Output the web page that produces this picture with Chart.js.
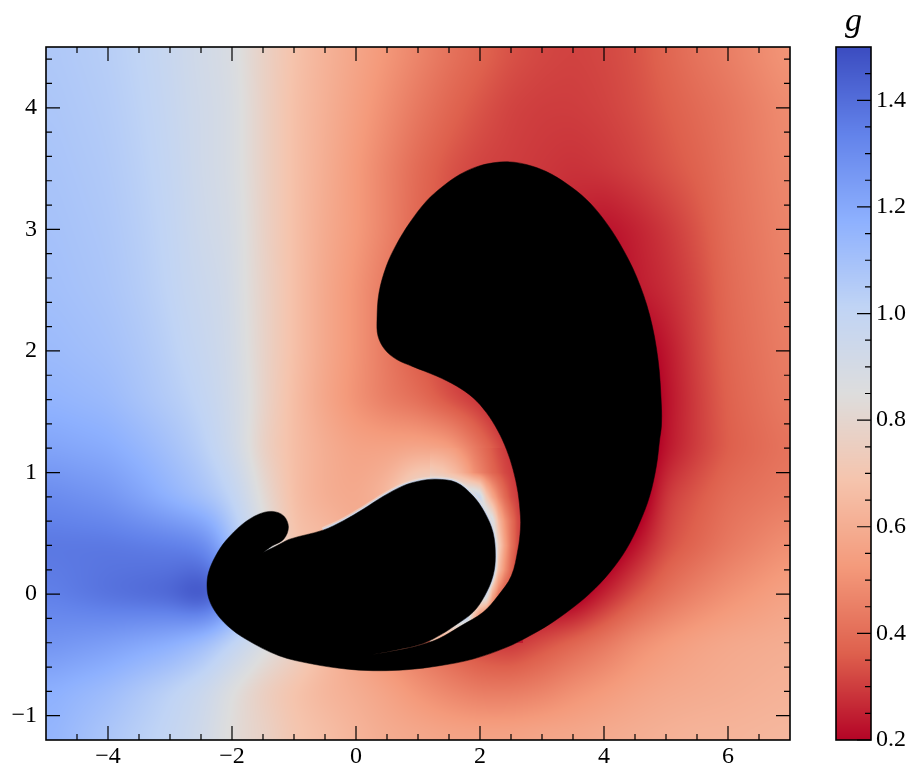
<!DOCTYPE html>
<html>
<head>
<meta charset="utf-8">
<title>g</title>
<script src="https://cdn.jsdelivr.net/npm/chart.js@4"></script>
<style>
    html, body { margin: 0; padding: 0; background: #fff; }
    canvas { position: absolute; top: 0; display: block; }
    #main { left: 0; }
    #cbar { left: 815px; }
</style>
</head>
<body>
<canvas id="main" width="815" height="777"></canvas>
<canvas id="cbar" width="100" height="777"></canvas>
<script>
const xMajor = [-4, -2, 0, 2, 4, 6];
const xMinor = [-4.5, -3.5, -3, -2.5, -1.5, -1, -0.5, 0.5, 1, 1.5, 2.5, 3, 3.5, 4.5, 5, 5.5, 6.5];
const yMajor = [-1, 0, 1, 2, 3, 4];
const yMinor = [-0.8, -0.6, -0.4, -0.2, 0.2, 0.4, 0.6, 0.8, 1.2, 1.4, 1.6, 1.8, 2.2, 2.4, 2.6, 2.8, 3.2, 3.4, 3.6, 3.8, 4.2, 4.4];
const cbarMajor = [0.2, 0.4, 0.6, 0.8, 1.0, 1.2, 1.4];
const cbarMinor = [0.25, 0.3, 0.35, 0.45, 0.5, 0.55, 0.65, 0.7, 0.75, 0.85, 0.9, 0.95, 1.05, 1.1, 1.15, 1.25, 1.3, 1.35, 1.45];

// coolwarm, reversed: first stop is g = 1.5, last is g = 0.2
const colorStops = [[59, 76, 192], [98, 130, 234], [141, 176, 254], [192, 212, 245], [221, 221, 221], [245, 196, 173], [244, 154, 123], [222, 96, 77], [180, 4, 38]];

// g
const gridX = [-5, -4, -3.5, -3, -2.75, -2.5, -2.25, -2, -1.75, -1.5, -1, -0.5, 0, 0.5, 1, 1.5, 2, 2.5, 3, 3.5, 4, 4.5, 5, 5.5, 6, 7];
const gridY = [-1.2, -0.8, -0.4, 0, 0.4, 0.8, 1.2, 1.6, 2, 2.5, 3, 3.5, 4, 4.5];
const gridValues = [
    [1.16, 1.07, 1.03, .99, .96, .93, .88, .83, .8, .78, .7, .67, .63, .6, .59, .58, .58, .58, .59, .59, .6, .61, .62, .63, .63, .64],
    [1.18, 1.12, 1.07, 1.02, .99, .96, .91, .85, .8, .75, .68, .63, .6, .56, .51, .47, .44, .44, .46, .5, .53, .56, .58, .59, .6, .62],
    [1.28, 1.24, 1.21, 1.18, 1.15, 1.12, 1.07, 1.01, .95, .88, .78, .66, .56, .48, .42, .36, .3, .28, .33, .38, .43, .49, .53, .56, .58, .6],
    [1.34, 1.39, 1.41, 1.43, 1.47, 1.5, 1.45, 1.3, 1.2, 1.1, .9, .7, .6, .5, .4, .3, .2, .2, .15, .15, .25, .34, .41, .46, .5, .56],
    [1.37, 1.37, 1.36, 1.35, 1.34, 1.32, 1.25, 1.1, 1.0, .9, .68, .66, .6, .5, .4, .3, .2, .15, .12, .12, .12, .22, .33, .38, .43, .5],
    [1.31, 1.27, 1.22, 1.16, 1.13, 1.1, 1.06, 1.01, .93, .82, .66, .6, .58, .64, .85, .85, .6, .3, .12, .1, .1, .11, .3, .35, .4, .44],
    [1.22, 1.19, 1.15, 1.1, 1.07, 1.04, .99, .94, .86, .76, .66, .6, .56, .56, .57, .55, .41, .28, .15, .12, .1, .1, .23, .3, .36, .42],
    [1.16, 1.13, 1.09, 1.05, 1.03, 1.0, .97, .92, .87, .78, .66, .57, .5, .44, .4, .33, .28, .2, .15, .12, .1, .1, .22, .3, .37, .44],
    [1.13, 1.1, 1.07, 1.03, 1.0, .98, .95, .92, .85, .78, .67, .58, .51, .43, .35, .3, .25, .2, .15, .12, .1, .16, .23, .31, .38, .45],
    [1.11, 1.08, 1.05, 1.01, .98, .96, .94, .91, .84, .78, .67, .58, .51, .43, .36, .3, .25, .2, .15, .14, .18, .24, .27, .32, .39, .46],
    [1.1, 1.07, 1.04, 1.0, .97, .94, .92, .9, .84, .77, .67, .59, .53, .46, .38, .33, .3, .3, .28, .25, .22, .25, .29, .34, .4, .47],
    [1.09, 1.06, 1.03, .99, .96, .93, .91, .89, .83, .77, .67, .6, .53, .46, .39, .34, .31, .3, .29, .28, .29, .31, .34, .37, .41, .48],
    [1.08, 1.05, 1.02, .98, .95, .93, .91, .89, .83, .77, .67, .61, .55, .49, .43, .38, .34, .31, .3, .3, .31, .33, .36, .39, .42, .49],
    [1.07, 1.04, 1.01, .97, .94, .92, .9, .88, .82, .77, .68, .62, .57, .52, .47, .42, .38, .34, .32, .31, .32, .34, .38, .42, .45, .52]
];

// finer read of the narrow channel between the two black lobes
const patchX = [1.2, 1.3, 1.4, 1.5, 1.6, 1.7, 1.8, 1.9, 2.0, 2.1, 2.2, 2.3, 2.4, 2.5, 2.6, 2.7];
const patchY = [-0.4, -0.2, 0, 0.2, 0.4, 0.6, 0.8, 1.0, 1.2];
const patchValues = [
    [.7, .6, .5, .45, .4, .36, .33, .3, .28, .26, .25, .24, .24, .24, .24, .24],
    [1, 1, 1, 1, 1, 1, .95, .65, .42, .35, .3, .28, .26, .25, .25, .25],
    [1, 1, 1, 1, 1, 1, 1, 1, 1, .95, .6, .42, .33, .3, .28, .26],
    [1, 1, 1, 1, 1, 1, 1, 1, 1, 1, .95, .66, .5, .38, .3, .28],
    [1, 1, 1, 1, 1, 1, 1, 1, 1, 1, 1, .75, .56, .42, .33, .29],
    [1, 1, 1, 1, 1, 1, 1, 1, 1, 1, .9, .65, .51, .41, .33, .29],
    [1, 1, 1, 1, 1, 1, 1, 1, .95, .72, .58, .47, .39, .33, .3, .28],
    [.74, .72, .71, .68, .65, .61, .56, .5, .46, .42, .38, .35, .32, .3, .28, .28],
    [.57, .57, .56, .55, .53, .5, .47, .44, .41, .38, .35, .32, .3, .28, .27, .27]
];

// outline of the black region, walked from the cusp under the small head
const outlineX = [-1.5, -1.258, -1.069, -0.532, -0.21, 0.113, 0.435, 0.758, 1.027, 1.297, 1.619, 1.887, 2.076, 2.21, 2.248, 2.21, 2.076, 1.887, 1.592, 1.398, 1.081, 0.652, 0.248,
    0.813, 1.242, 1.431, 1.7, 2.048, 2.29, 2.506, 2.613, 2.652, 2.652, 2.613, 2.532, 2.426, 2.29, 2.103, 1.887, 1.619, 1.297, 0.919, 0.652, 0.463, 0.355, 0.339, 0.371, 0.49, 0.652, 0.866, 1.135, 1.403, 1.673, 1.942, 2.21, 2.479, 2.748, 3.071, 3.394, 3.716, 3.984, 4.253, 4.523, 4.737, 4.871, 4.926, 4.926, 4.898, 4.845, 4.737, 4.576, 4.361, 4.092, 3.769, 3.447, 3.124, 2.802, 2.426, 1.887, 1.35, 0.813, 0.274, -0.166, -0.703, -1.242, -1.779, -2.074, -2.263, -2.371, -2.403, -2.376, -2.263, -2.102, -1.832, -1.569, -1.348, -1.166, -1.09, -1.166, -1.365, -1.5];
const outlineY = [0.343, 0.403, 0.452, 0.526, 0.602, 0.698, 0.803, 0.89, 0.931, 0.945, 0.918, 0.808, 0.671, 0.507, 0.315, 0.15, -0.014, -0.15, -0.26, -0.325, -0.407, -0.46, -0.499,
    -0.448, -0.386, -0.341, -0.259, -0.15, -0.014, 0.15, 0.37, 0.534, 0.643, 0.836, 1.027, 1.191, 1.342, 1.493, 1.616, 1.712, 1.794, 1.871, 1.931, 2.013, 2.122, 2.26, 2.479, 2.698, 2.876, 3.054, 3.232, 3.355, 3.451, 3.514, 3.547, 3.555, 3.533, 3.475, 3.377, 3.246, 3.09, 2.884, 2.613, 2.293, 1.931, 1.547, 1.383, 1.274, 1.054, 0.808, 0.589, 0.37, 0.178, 0.004, -0.131, -0.247, -0.343, -0.438, -0.534, -0.589, -0.622, -0.63, -0.616, -0.575, -0.507, -0.37, -0.26, -0.15, -0.041, 0.068, 0.181, 0.315, 0.438, 0.575, 0.657, 0.68, 0.643, 0.551, 0.452, 0.392, 0.343];

const FONT = "'Liberation Serif', serif";
const G_MIN = 0.2, G_MAX = 1.5;
const BLUR = 9;

function colorFor(g) {
    let t = (G_MAX - g) / (G_MAX - G_MIN);
    t = Math.max(0, Math.min(1, t)) * (colorStops.length - 1);
    const i = Math.min(colorStops.length - 2, Math.floor(t));
    const f = t - i;
    const a = colorStops[i], b = colorStops[i + 1];
    return [a[0] + (b[0] - a[0]) * f, a[1] + (b[1] - a[1]) * f, a[2] + (b[2] - a[2]) * f];
}

function cellIndex(list, v) {
    let i = 0;
    while (i < list.length - 2 && v > list[i + 1]) i++;
    return i;
}

function sampleGrid(xs, ys, vals, x, y) {
    const i = cellIndex(xs, x), j = cellIndex(ys, y);
    const fx = Math.max(0, Math.min(1, (x - xs[i]) / (xs[i + 1] - xs[i])));
    const fy = Math.max(0, Math.min(1, (y - ys[j]) / (ys[j + 1] - ys[j])));
    const lo = vals[j][i] + (vals[j][i + 1] - vals[j][i]) * fx;
    const hi = vals[j + 1][i] + (vals[j + 1][i + 1] - vals[j + 1][i]) * fx;
    return lo + (hi - lo) * fy;
}

function inPatch(x, y) {
    return x >= patchX[0] && x <= patchX[patchX.length - 1] && y >= patchY[0] && y <= patchY[patchY.length - 1];
}

// soften the kinks of the coarse grid, one pass per direction
function boxBlur(src, w, h, r) {
    const out = new Float32Array(src.length);
    for (let py = 0; py < h; py++) {
        for (let px = 0; px < w; px++) {
            let sum = 0, n = 0;
            for (let d = -r; d <= r; d += 2) {
                const q = px + d;
                if (q >= 0 && q < w) { sum += src[py * w + q]; n++; }
            }
            out[py * w + px] = sum / n;
        }
    }
    const res = new Float32Array(src.length);
    for (let py = 0; py < h; py++) {
        for (let px = 0; px < w; px++) {
            let sum = 0, n = 0;
            for (let d = -r; d <= r; d += 2) {
                const q = py + d;
                if (q >= 0 && q < h) { sum += out[q * w + px]; n++; }
            }
            res[py * w + px] = sum / n;
        }
    }
    return res;
}

const fieldPlugin = {
    id: 'field',
    beforeDatasetsDraw(chart) {
        const { ctx, chartArea: area, scales } = chart;
        const w = Math.round(area.right - area.left), h = Math.round(area.bottom - area.top);
        let coarse = new Float32Array(w * h);
        for (let py = 0; py < h; py++) {
            const y = scales.y.getValueForPixel(area.top + py + 0.5);
            for (let px = 0; px < w; px++) {
                const x = scales.x.getValueForPixel(area.left + px + 0.5);
                coarse[py * w + px] = sampleGrid(gridX, gridY, gridValues, x, y);
            }
        }
        coarse = boxBlur(boxBlur(coarse, w, h, BLUR), w, h, BLUR);
        const img = ctx.createImageData(w, h);
        for (let py = 0; py < h; py++) {
            const y = scales.y.getValueForPixel(area.top + py + 0.5);
            for (let px = 0; px < w; px++) {
                const x = scales.x.getValueForPixel(area.left + px + 0.5);
                const g = inPatch(x, y) ? sampleGrid(patchX, patchY, patchValues, x, y) : coarse[py * w + px];
                const c = colorFor(g);
                const k = (py * w + px) * 4;
                img.data[k] = c[0];
                img.data[k + 1] = c[1];
                img.data[k + 2] = c[2];
                img.data[k + 3] = 255;
            }
        }
        ctx.putImageData(img, Math.round(area.left), Math.round(area.top));
    },
    afterDatasetDraw(chart, args) {
        if (args.meta.label !== 'outline') return;
        const ctx = chart.ctx;
        ctx.save();
        ctx.beginPath();
        args.meta.data.forEach((p, i) => {
            if (!i) { ctx.moveTo(p.x, p.y); return; }
            const q = args.meta.data[i - 1];
            ctx.bezierCurveTo(q.cp2x, q.cp2y, p.cp1x, p.cp1y, p.x, p.y);
        });
        ctx.closePath();
        ctx.fillStyle = '#000';
        ctx.fill();
        ctx.restore();
    }
};

function drawTicks(ctx, scale, values, len, side, area) {
    ctx.beginPath();
    values.forEach(v => {
        const p = scale.getPixelForValue(v);
        if (side == 'bottom') { ctx.moveTo(p, area.bottom); ctx.lineTo(p, area.bottom - len); }
        if (side == 'top') { ctx.moveTo(p, area.top); ctx.lineTo(p, area.top + len); }
        if (side == 'left') { ctx.moveTo(area.left, p); ctx.lineTo(area.left + len, p); }
        if (side == 'right') { ctx.moveTo(area.right, p); ctx.lineTo(area.right - len, p); }
    });
    ctx.stroke();
}

const framePlugin = {
    id: 'frame',
    afterDraw(chart) {
        const { ctx, chartArea: area, scales } = chart;
        ctx.save();
        ctx.strokeStyle = '#000';
        ctx.lineWidth = 1.2;
        if (chart.canvas.id == 'main') {
            ['bottom', 'top'].forEach(s => {
                drawTicks(ctx, scales.x, xMajor, 14, s, area);
                drawTicks(ctx, scales.x, xMinor, 6, s, area);
            });
            ['left', 'right'].forEach(s => {
                drawTicks(ctx, scales.y, yMajor, 14, s, area);
                drawTicks(ctx, scales.y, yMinor, 6, s, area);
            });
        } else {
            drawTicks(ctx, scales.y, cbarMajor, 14, 'right', area);
            drawTicks(ctx, scales.y, cbarMinor, 6, 'right', area);
        }
        ctx.lineWidth = 1.6;
        ctx.strokeRect(area.left, area.top, area.right - area.left, area.bottom - area.top);
        ctx.restore();
    }
};

const cbarPlugin = {
    id: 'cbarFill',
    beforeDatasetsDraw(chart) {
        const { ctx, chartArea: area, scales } = chart;
        for (let py = Math.round(area.top); py < area.bottom; py++) {
            const c = colorFor(scales.y.getValueForPixel(py + 0.5));
            ctx.fillStyle = `rgb(${c[0]},${c[1]},${c[2]})`;
            ctx.fillRect(area.left, py, area.right - area.left, 1);
        }
    }
};

function toPoints(xs, ys) {
    return xs.map((x, i) => ({ x: x, y: ys[i] }));
}

function minusLabel(v) {
    return String(v).replace('-', '\u2212');
}

// the pale rim on the lobe, under the black outline
const rimPoints = toPoints(outlineX.slice(3, 17), outlineY.slice(3, 17));

new Chart(document.getElementById('main'), {
    type: 'scatter',
    data: {
        datasets: [
            { label: 'outline', data: toPoints(outlineX, outlineY), showLine: true, borderColor: '#000', borderWidth: 0.5, pointRadius: 0, tension: 0.35 },
            { label: 'rim', data: rimPoints, showLine: true, borderColor: 'rgb(205,215,235)', borderWidth: 3, pointRadius: 0, tension: 0.35 },
            { label: 'rimOuter', data: rimPoints, showLine: true, borderColor: 'rgba(232,222,215,0.55)', borderWidth: 6, pointRadius: 0, tension: 0.35 }
        ]
    },
    options: {
        responsive: false,
        animation: false,
        layout: { padding: { top: 47, right: 25, bottom: 0, left: 0 } },
        plugins: { legend: { display: false }, tooltip: { enabled: false } },
        scales: {
            x: {
                type: 'linear', min: -5, max: 7,
                afterBuildTicks: s => { s.ticks = xMajor.map(v => ({ value: v })); },
                afterFit: s => { s.height = 37; },
                grid: { display: false, drawTicks: false }, border: { display: false },
                ticks: { color: '#000', font: { family: FONT, size: 24 }, padding: 2, maxRotation: 0, autoSkip: false, callback: minusLabel }
            },
            y: {
                type: 'linear', min: -1.2, max: 4.5,
                afterBuildTicks: s => { s.ticks = yMajor.map(v => ({ value: v })); },
                afterFit: s => { s.width = 46; },
                grid: { display: false, drawTicks: false }, border: { display: false },
                ticks: { color: '#000', font: { family: FONT, size: 24 }, padding: 9, autoSkip: false, callback: minusLabel }
            }
        }
    },
    plugins: [fieldPlugin, framePlugin]
});

new Chart(document.getElementById('cbar'), {
    type: 'scatter',
    data: { datasets: [{ label: 'g', data: [] }] },
    options: {
        responsive: false,
        animation: false,
        layout: { padding: { top: 0, right: 0, bottom: 37, left: 21 } },
        plugins: {
            legend: { display: false },
            tooltip: { enabled: false },
            title: { display: true, fullSize: false, text: 'g', color: '#000', font: { family: FONT, size: 34, style: 'italic', weight: 'normal', lineHeight: 1.2 }, padding: { top: 2, bottom: 4.2 } }
        },
        scales: {
            x: { display: false, min: 0, max: 1 },
            y: {
                type: 'linear', position: 'right', min: G_MIN, max: G_MAX,
                afterBuildTicks: s => { s.ticks = cbarMajor.map(v => ({ value: v })); },
                afterFit: s => { s.width = 44; },
                grid: { display: false, drawTicks: false }, border: { display: false },
                ticks: { color: '#000', font: { family: FONT, size: 24 }, padding: 5, autoSkip: false, callback: v => v.toFixed(1) }
            }
        }
    },
    plugins: [cbarPlugin, framePlugin]
});
</script>
</body>
</html>
